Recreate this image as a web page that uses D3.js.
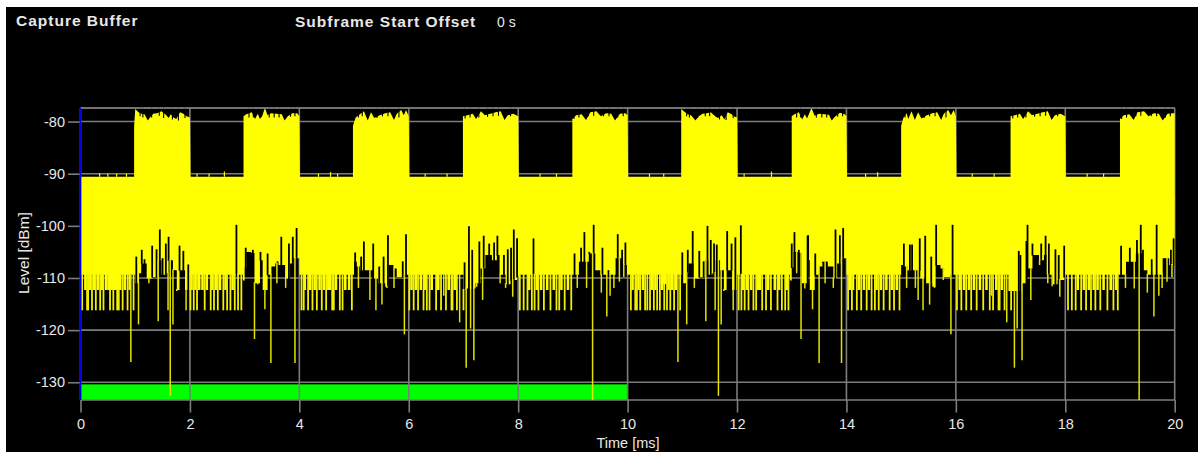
<!DOCTYPE html>
<html><head><meta charset="utf-8">
<script src="https://cdn.jsdelivr.net/npm/d3@7/dist/d3.min.js"></script>
<style>html,body{margin:0;padding:0;background:#fff;overflow:hidden}svg{display:block}
text{font-family:"Liberation Sans",Arial,sans-serif;fill:#e8e8e8}</style></head><body>
<svg id="c" width="1204" height="452"></svg>
<script>
const xTicks=[0,2,4,6,8,10,12,14,16,18,20];
const yTicks=[-80,-90,-100,-110,-120,-130];
const offLevel=-90.6;
// upper envelope of the captured level: [ms, dBm]
const upperEnvelope=[[0,offLevel],
[0.98,-81],[1.0,-77.6],[1.06,-78.2],[1.11,-78.5],[1.17,-78.6],[1.23,-79.8],[1.27,-79.2],[1.33,-78.5],[1.4,-78.4],[1.48,-78],[1.56,-78.7],[1.61,-79.3],[1.65,-78.6],[1.7,-79.2],[1.75,-79.5],[1.82,-78.2],[1.88,-78.5],[1.94,-79],[2,-79.2],[2.01,offLevel],
[2.98,-79],[3.03,-78.6],[3.13,-78.2],[3.19,-79.5],[3.24,-78.5],[3.28,-79.5],[3.32,-79],[3.37,-77.4],[3.42,-78.8],[3.48,-78.4],[3.58,-78.5],[3.68,-78.6],[3.73,-79.8],[3.79,-79],[3.87,-78.4],[3.96,-78.4],[4.0,-79],[4.01,offLevel],
[4.98,-80.8],[5.03,-79.2],[5.12,-78.5],[5.18,-78],[5.25,-79.8],[5.31,-78.2],[5.37,-79.3],[5.47,-78.8],[5.57,-78.4],[5.66,-78.2],[5.73,-79.7],[5.78,-78.5],[5.86,-77.8],[5.91,-78.8],[5.95,-77.8],[6.0,-79],[6.01,offLevel],
[6.99,-79],[7.07,-78.8],[7.17,-78.5],[7.23,-79.5],[7.32,-78],[7.39,-78.8],[7.49,-78.5],[7.59,-78.2],[7.68,-78],[7.75,-79.7],[7.81,-78.8],[7.91,-78.5],[8.0,-79],[8.01,offLevel],
[8.99,-79.5],[9.06,-78.8],[9.16,-78.6],[9.24,-79.7],[9.32,-78.2],[9.43,-78],[9.51,-79],[9.61,-78.4],[9.7,-78.5],[9.77,-79.8],[9.86,-78.5],[9.96,-78.4],[10.0,-78.8],[10.01,offLevel],
[10.98,-77.6],[11.05,-78.2],[11.1,-78.6],[11.16,-78.8],[11.24,-79.8],[11.3,-79],[11.37,-78.5],[11.45,-78.4],[11.52,-78.2],[11.6,-79],[11.65,-79.3],[11.72,-78.8],[11.77,-79.6],[11.83,-78.2],[11.9,-78.6],[11.96,-79.1],[12.0,-79.2],[12.01,offLevel],
[13.0,-79],[13.05,-78.6],[13.13,-78.2],[13.19,-79.6],[13.24,-78.6],[13.28,-79.4],[13.36,-77.4],[13.42,-78.9],[13.5,-78.5],[13.6,-78.6],[13.68,-78.7],[13.73,-79.8],[13.8,-79],[13.88,-78.3],[13.97,-78.6],[14.0,-79],[14.01,offLevel],
[15.0,-80.8],[15.04,-79.3],[15.1,-78.4],[15.13,-79.5],[15.19,-78],[15.25,-79.7],[15.31,-78.2],[15.37,-79.4],[15.47,-78.8],[15.57,-78.4],[15.66,-78.2],[15.73,-79.7],[15.78,-78.5],[15.86,-77.8],[15.91,-78.8],[15.96,-77.8],[16.0,-79],[16.01,offLevel],
[17,-79],[17.08,-78.8],[17.17,-78.5],[17.23,-79.5],[17.32,-78],[17.39,-78.8],[17.49,-78.5],[17.59,-78.2],[17.68,-78],[17.75,-79.7],[17.81,-78.8],[17.91,-78.5],[18.0,-79],[18.01,offLevel],
[19,-79.5],[19.07,-78.8],[19.17,-78.6],[19.25,-79.7],[19.32,-78.2],[19.44,-78],[19.52,-79],[19.62,-78.4],[19.71,-78.5],[19.78,-79.8],[19.87,-78.5],[19.96,-78.4],[20,-78.4]];
// one-sample dips along the burst tops: [ms, dBm]
const topDips=[[1.09,-79],[1.14,-79.2],[1.3,-79.2],[1.44,-78.9],[1.52,-79.3],[1.68,-79.6],[1.79,-79.8],[1.91,-79.3],
[3.08,-79.2],[3.16,-79.2],[3.45,-79.2],[3.54,-79.2],[3.63,-79.2],[3.84,-79.1],[3.92,-79],
[5.08,-79.2],[5.15,-79],[5.42,-79.3],[5.52,-79],[5.62,-79],[5.82,-79.2],
[7.03,-79.4],[7.12,-79.2],[7.28,-79.2],[7.44,-79.1],[7.54,-79],[7.64,-78.9],[7.86,-79],
[9.02,-79.5],[9.11,-79.2],[9.28,-79],[9.38,-78.9],[9.56,-79],[9.66,-79],[9.82,-79.2],[9.92,-79],
[11.08,-79],[11.13,-79.2],[11.28,-79.3],[11.42,-79],[11.5,-79],[11.68,-79.6],[11.8,-79.7],[11.93,-79.3],
[13.09,-79.2],[13.16,-79.2],[13.45,-79.2],[13.55,-79.2],[13.64,-79.2],[13.84,-79.1],[13.93,-79],
[15.07,-79.2],[15.42,-79.3],[15.52,-79],[15.62,-79],[15.82,-79.2],
[17.04,-79.4],[17.13,-79.2],[17.28,-79.2],[17.44,-79.1],[17.54,-79],[17.64,-78.9],[17.86,-79],
[19.03,-79.5],[19.12,-79.2],[19.29,-79],[19.38,-78.9],[19.57,-79],[19.67,-79],[19.83,-79.2],[19.92,-79]];
// small peaks on the low-power parts
const offPeaks=[[0.35,-89.9],[0.5,-90],[0.66,-90],[0.84,-90],[2.13,-90],[2.35,-90],[2.63,-89.6],[4.35,-90],[4.57,-89.7],[4.7,-90],[6.3,-90],[6.7,-90],[8.4,-90],[8.7,-90],[10.4,-90],[10.66,-90],[12.13,-90],[12.63,-89.6],[14.35,-90],[14.57,-89.7],[16.3,-90],[16.7,-90],[18.4,-90],[18.7,-90]];
// lower edge of the solid body: [ms, dBm] steps
const bodyEdge=[[0,-109.4],[0.49,-112.3],[0.75,-109.4],[1,-111],[1.07,-109.1],[1.11,-107.2],[1.21,-110.1],[1.31,-109.8],[1.42,-106.6],[1.48,-109.4],[1.55,-109.1],[1.61,-106.6],[1.69,-108.5],[1.76,-112.3],[1.81,-108.5],[1.91,-112.3],[2,-109.4],
[2.97,-110.5],[3,-108],[3.03,-105],[3.12,-105.2],[3.18,-111],[3.28,-106.6],[3.33,-112.3],[3.42,-109.4],[3.49,-107.8],[3.56,-107.2],[3.62,-107.5],[3.74,-110.1],[3.83,-107.2],[3.89,-106.2],[4,-109.4],
[5,-106.9],[5.05,-107.8],[5.11,-108.5],[5.23,-108.5],[5.35,-110.1],[5.44,-111],[5.57,-111.7],[5.63,-107.5],[5.72,-108.2],[5.78,-109.8],[5.9,-109.4],
[7,-112.3],[7.05,-112],[7.22,-111],[7.31,-108.2],[7.4,-105.6],[7.52,-106.6],[7.61,-105.6],[7.66,-109.4],[7.77,-111.2],[7.86,-110.4],[7.98,-109.8],[8.01,-109.4],
[9.11,-106.9],[9.29,-105.3],[9.41,-108.5],[9.5,-109.4],[9.78,-106.2],[9.9,-107.5],[9.99,-109.4],
[10.6,-111.2],[10.72,-109.4],[11,-111],[11.07,-109.1],[11.11,-107.2],[11.21,-110.1],[11.31,-109.8],[11.42,-106.6],[11.48,-109.4],[11.55,-109.1],[11.61,-106.6],[11.69,-108.5],[11.76,-112.3],[11.81,-108.5],[11.91,-112.3],[12,-109.4],
[12.97,-110.5],[13,-108],[13.03,-105],[13.12,-105.2],[13.18,-111],[13.3,-106.6],[13.33,-112.3],[13.42,-109.4],[13.5,-107.8],[13.56,-106.9],[13.66,-107.8],[13.76,-110.1],[13.83,-107.2],[13.9,-106.2],[14,-109.4],
[15,-107.5],[15.05,-107.8],[15.11,-108.5],[15.23,-108.5],[15.35,-110.1],[15.44,-111],[15.57,-111.7],[15.63,-107.5],[15.72,-108.2],[15.78,-109.8],[15.9,-109.4],
[16.96,-112.5],[17.2,-111],[17.3,-108.2],[17.4,-105.6],[17.52,-106.6],[17.61,-105.6],[17.66,-109.4],[17.77,-111.2],[17.86,-110.4],[17.98,-109.8],[18,-109.4],
[19.11,-106.9],[19.29,-105.3],[19.41,-108.5],[19.5,-109.4],[19.78,-106.2],[19.9,-107.5],[20,-108.2]];
// narrow dips of the body upward (gaps): [ms, dBm]
const gaps=[[1.02,-105.9],[1.12,-104.6],[1.17,-106.4],[1.31,-103.8],[1.39,-104.5],[1.45,-100.7],[1.5,-106.2],[1.56,-103.4],[1.61,-102.1],[1.72,-108.5],[1.81,-103.8],[1.88,-104.8],[1.97,-107.4],[2.85,-99.8],[3.02,-104.2],[3.15,-104.6],[3.29,-105],[3.42,-105.3],[3.6,-106.8],[3.67,-102.1],[3.81,-103.4],[3.88,-102.1],[3.95,-100.4],
[5.02,-105.1],[5.13,-105.9],[5.18,-103],[5.35,-103.4],[5.46,-107.8],[5.54,-105.9],[5.62,-101.8],[5.89,-106.8],[5.95,-101.6],
[7.02,-107],[7.1,-100.1],[7.16,-104.6],[7.29,-103],[7.37,-101.9],[7.47,-103.4],[7.56,-103.2],[7.62,-101.9],[7.74,-105.6],[7.81,-104.5],[7.87,-104.2],[7.92,-100.7],[7.98,-102.4],[8.28,-102.4],
[9.03,-105.3],[9.15,-104.2],[9.21,-101.2],[9.3,-105],[9.38,-99.8],[9.54,-104.2],[9.65,-108.5],[9.82,-101.6],[9.9,-104.6],[9.96,-103.2],
[11,-105.1],[11.1,-104.6],[11.19,-101],[11.31,-104.8],[11.39,-106.8],[11.46,-100],[11.52,-102.7],[11.58,-103.4],[11.63,-103.6],[11.82,-101],[11.9,-103.4],[11.97,-102.2],[12.07,-99.9],[13,-103.4],[13.05,-101.2],[13.13,-104.6],[13.29,-101.9],
[13.3,-101.8],[13.43,-105.3],[13.56,-106.9],[13.62,-106.8],[13.8,-100.7],[13.88,-101.8],[13.94,-100.4],
[15.05,-103.4],[15.16,-103.6],[15.2,-103.6],[15.34,-102.4],[15.44,-101.9],[15.55,-105.9],[15.64,-99.8],[15.77,-108.5],[15.94,-99.8],
[17.15,-104.8],[17.18,-105.6],[17.29,-102.9],[17.31,-99.8],[17.4,-103.4],[17.56,-103.4],[17.64,-101.9],[17.7,-103.4],[17.82,-104.5],[17.88,-105.6],[17.98,-103.8],
[19.02,-103.8],[19.18,-104.2],[19.31,-102.7],[19.38,-99.8],[19.42,-104.6],[19.58,-106.4],[19.67,-99.8],[19.81,-106.2],[19.93,-104.6],[19.98,-102.4]];
// isolated downward spikes: [ms, dBm]
const spikes=[[0.92,-126.1],[1.06,-118.9],[1.25,-111],[1.42,-118.3],[1.6,-116.2],[1.64,-132.6],[1.69,-118.9],[1.76,-112.5],[1.93,-116.2],[3.18,-121.7],[3.24,-111.2],
[3.37,-116],[3.48,-126.3],[3.59,-111],[3.75,-111.9],[3.92,-126.3],[5.08,-111.9],[5.29,-114.2],[5.4,-116.2],[5.51,-115.1],[5.6,-111.9],[5.73,-111.9],[5.92,-120.8],
[6.64,-113.4],[6.93,-118.5],[7.05,-127.2],[7.13,-119.7],[7.19,-125.8],[7.24,-111.7],[7.35,-114.2],[7.67,-111],[7.77,-111.9],[7.9,-113.6],
[9.08,-111.9],[9.25,-111.9],[9.36,-133.4],[9.52,-112.8],[9.62,-117.4],[9.68,-113.4],[9.75,-111.9],[9.85,-110.7],[9.93,-109.8],
[10.92,-126.1],[11.08,-118.9],[11.22,-111.9],[11.43,-118.3],[11.6,-116.2],[11.66,-132.6],[11.71,-118.9],[11.76,-112.5],[11.93,-116.2],[13.09,-109.1],[13.17,-121.7],[13.24,-112],
[13.38,-116],[13.5,-126.3],[13.61,-111],[13.76,-111.9],[13.91,-126.3],[15.1,-111.9],[15.26,-111.9],[15.31,-114.2],[15.4,-116.2],[15.52,-115.1],[15.61,-111.9],[15.77,-110.4],[15.91,-120.8],
[16.65,-113.4],[16.93,-118.5],[17.07,-127.2],[17.12,-119.7],[17.21,-125.8],[17.37,-114.2],[17.53,-107.5],[17.68,-111],[17.76,-111.6],[17.9,-113.6],
[19.1,-111.9],[19.26,-112],[19.35,-133.4],[19.5,-112.8],[19.62,-117.4],[19.71,-113.4],[19.77,-111.9],[19.86,-110.7],[19.95,-109.8]];
// comb teeth reaching the noise floor (ms)
const floorLevel=-116.2, shelfLevel=-112.3;
const floorTeeth=[0.03,0.12,0.14,0.21,0.28,0.36,0.42,0.54,0.6,0.67,0.7,0.77,0.86,0.97,2.01,2.07,2.13,2.27,2.38,2.44,2.51,2.61,2.68,2.74,2.82,2.88,2.94,
4.04,4.08,4.16,4.24,4.32,4.41,4.49,4.6,4.63,4.74,4.79,4.96,6.01,6.09,6.17,6.27,6.33,6.38,6.5,6.59,6.68,6.78,6.8,6.88,7,
8.03,8.1,8.17,8.25,8.3,8.37,8.47,8.59,8.7,8.75,8.85,8.97,
10.06,10.14,10.17,10.23,10.32,10.36,10.41,10.48,10.54,10.59,10.67,10.72,10.78,10.85,10.96,12.03,12.08,12.14,12.21,12.3,12.35,12.46,12.53,12.62,12.74,12.82,12.88,12.94,
14.03,14.1,14.19,14.27,14.37,14.46,14.52,14.59,14.68,14.79,14.87,14.97,16.02,16.1,16.19,16.28,16.38,16.5,16.62,16.68,16.78,16.8,16.89,17.01,
18.05,18.12,18.19,18.29,18.38,18.47,18.55,18.64,18.77,18.88,18.96];
const shelfTeeth=[0.09,0.18,0.25,0.32,0.39,0.47,0.81,0.9,2.03,2.1,2.17,2.23,2.31,2.4,2.48,2.55,2.65,2.78,
4.1,4.2,4.28,4.37,4.45,4.53,4.56,4.67,4.84,4.91,6.05,6.13,6.22,6.3,6.42,6.54,6.73,6.84,
8.2,8.34,8.42,8.53,8.65,8.79,8.91,10.09,10.2,10.28,10.44,10.51,10.63,10.75,10.81,10.88,
12.11,12.18,12.26,12.38,12.42,12.57,12.69,12.77,12.91,14.06,14.12,14.23,14.32,14.41,14.55,14.63,14.73,14.83,14.92,
16.07,16.15,16.24,16.33,16.44,16.56,16.74,16.84,18.23,18.34,18.43,18.52,18.59,18.7,18.83,18.93];
const analyzedEnd=10;

const svg=d3.select("#c");
const x=d3.scaleLinear().domain([0,20]).range([80.5,1174.7]);
const y=d3.scaleLinear().domain([-77.4,-133.4]).range([108,400]);
const GRID="#7c7c7c", YEL="#ffff00";

svg.append("rect").attr("x",6).attr("y",7).attr("width",1192).attr("height",445).attr("fill","#000");
svg.append("rect").attr("x",x(0)).attr("y",y(-130.4)).attr("width",x(analyzedEnd)-x(0)).attr("height",y(-133.4)-y(-130.4)).attr("fill","#00ff00");

const ax=svg.append("g").attr("transform","translate(0,400)").call(d3.axisBottom(x).tickValues(xTicks).tickSize(12.5).tickPadding(6).tickFormat(d3.format("d")));
const ay=svg.append("g").attr("transform","translate(80.5,0)").call(d3.axisLeft(y).tickValues(yTicks).tickSize(12.5).tickPadding(3).tickFormat(d=>String(d)));
[ax,ay].forEach(g=>{g.select(".domain").remove();g.selectAll("line").attr("stroke",GRID).attr("stroke-width",1.6);
 g.selectAll("text").attr("fill","#e8e8e8").style("font-size","14.5px").style("font-family","'Liberation Sans',Arial,sans-serif");});

const grid=svg.append("g").attr("stroke",GRID).attr("stroke-width",1.6);
grid.selectAll(".v").data(xTicks).join("line").attr("x1",x).attr("x2",x).attr("y1",y(-77.4)).attr("y2",y(-133.4));
grid.selectAll(".h").data(yTicks.concat([-77.4,-133.4])).join("line").attr("x1",x(0)).attr("x2",x(20)).attr("y1",y).attr("y2",y);

const mid=-95;
// zigzag within a burst, square corners into and out of the low-power level
const upperPts=[];
upperEnvelope.forEach((d,i)=>{
  const prev=upperEnvelope[i-1];
  if(prev&&prev[1]===offLevel) upperPts.push([d[0],offLevel]);
  upperPts.push(d);
});
const upper=d3.area().curve(d3.curveLinear).x(d=>x(d[0])).y0(y(mid)+1).y1(d=>y(d[1]));
const lower=d3.area().curve(d3.curveStepAfter).x(d=>x(d[0])).y0(y(mid)-1).y1(d=>y(d[1]));
svg.append("path").attr("d",upper(upperPts)).attr("fill",YEL);
svg.append("path").attr("d",lower(bodyEdge)).attr("fill",YEL);

const bis=d3.bisector(d=>d[0]).right;
const bodyAt=t=>bodyEdge[Math.max(0,bis(bodyEdge,t)-1)][1];

svg.append("g").attr("stroke","#000").attr("stroke-width",1.1).selectAll("line").data(topDips).join("line")
 .attr("x1",d=>x(d[0])).attr("x2",d=>x(d[0])).attr("y1",y(-77.2)).attr("y2",d=>y(d[1]));
svg.append("g").attr("stroke",YEL).attr("stroke-width",1.2).selectAll("line").data(offPeaks).join("line")
 .attr("x1",d=>x(d[0])).attr("x2",d=>x(d[0])).attr("y1",d=>y(d[1])).attr("y2",y(offLevel));
svg.append("g").attr("stroke","#000").attr("stroke-width",1.8).selectAll("line").data(gaps).join("line")
 .attr("x1",d=>x(d[0])).attr("x2",d=>x(d[0])).attr("y1",d=>y(d[1])).attr("y2",d=>y(bodyAt(d[0]))+0.5);
const tooth=(data,w,col)=>svg.append("g").attr("stroke",col).attr("stroke-width",w).selectAll("line").data(data).join("line")
 .attr("x1",d=>x(d[0])).attr("x2",d=>x(d[0])).attr("y1",d=>y(Math.max(d[1],bodyAt(d[0])))-1).attr("y2",d=>y(d[1]));
tooth(shelfTeeth.map(t=>[t,shelfLevel]),2.6,YEL);
tooth(floorTeeth.map(t=>[t,floorLevel]),1.8,"#f0f000");
tooth(spikes,1.5,"#e4e400");

// redraw the top frame line over the dips
svg.append("line").attr("x1",x(0)).attr("x2",x(20)).attr("y1",y(-77.4)).attr("y2",y(-77.4)).attr("stroke",GRID).attr("stroke-width",1.6);
svg.append("line").attr("x1",x(0)).attr("x2",x(0)).attr("y1",y(-77.4)).attr("y2",y(-133.4)).attr("stroke","#0000e0").attr("stroke-width",1.8);

svg.append("text").attr("x",16).attr("y",26).attr("font-size",15.5).attr("font-weight","bold").style("letter-spacing","1.0px").text("Capture Buffer");
svg.append("text").attr("x",295).attr("y",27).attr("font-size",15.5).attr("font-weight","bold").style("letter-spacing","1.0px").text("Subframe Start Offset");
svg.append("text").attr("x",497).attr("y",27).attr("font-size",14).text("0 s");
svg.append("text").attr("x",628).attr("y",448).attr("text-anchor","middle").attr("font-size",14.5).text("Time [ms]");
svg.append("text").attr("transform","translate(29,253) rotate(-90)").attr("text-anchor","middle").attr("font-size",15.5).text("Level [dBm]");
</script></body></html>
